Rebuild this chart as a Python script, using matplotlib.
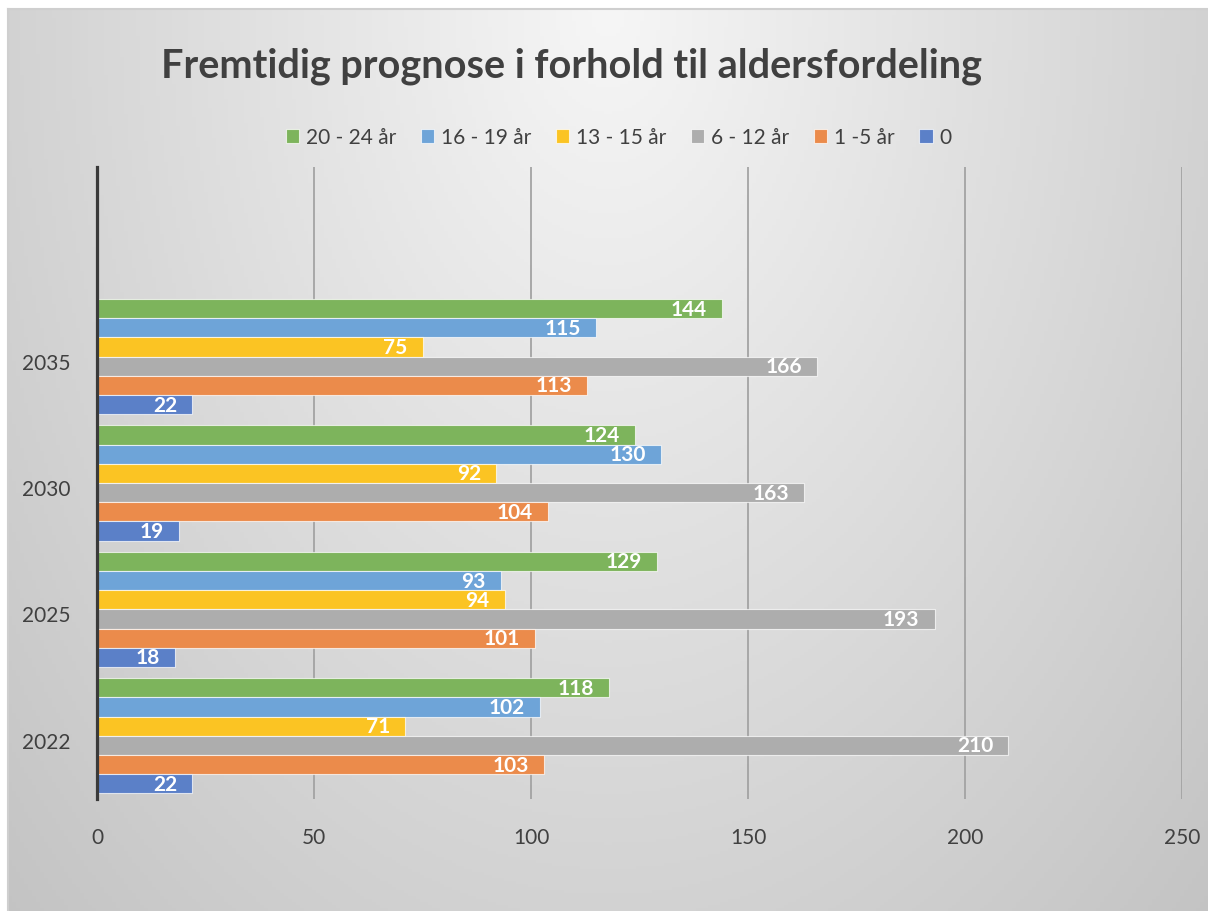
import numpy as np
import matplotlib.pyplot as plt
from matplotlib.transforms import ScaledTranslation

plt.rcParams['font.family'] = ['Lato', 'DejaVu Sans']

years = ['2022', '2025', '2030', '2035', '']
groups = ['20 - 24 år', '16 - 19 år', '13 - 15 år', '6 - 12 år', '1 -5 år', '0']
v_20_24 = [118, 129, 124, 144]
v_16_19 = [102, 93, 130, 115]
v_13_15 = [71, 94, 92, 75]
v_6_12 = [210, 193, 163, 166]
v_1_5 = [103, 101, 104, 113]
v_0 = [22, 18, 19, 22]
series = [v_20_24, v_16_19, v_13_15, v_6_12, v_1_5, v_0]
colors = ['#7db45c', '#6ea4d8', '#fbc423', '#adadad', '#eb8b4b', '#5b80c8']

fig = plt.figure(figsize=(12.08, 9.12), dpi=100, facecolor='white')

# background panel with radial gradient
bg = fig.add_axes([8/1208, 0, 1200/1208, 902/912])
gx, gy = np.meshgrid(np.linspace(0, 1, 300), np.linspace(0, 1, 300))
r = np.sqrt(((gx - 0.5) / 0.5)**2 + gy**2)
shade = 0.965 - 0.14 * r
bg.imshow(np.dstack([shade, shade, shade]), aspect='auto', extent=[0, 1, 1, 0])
bg.set_xlim(0, 1)
bg.set_ylim(1, 0)
for s in bg.spines.values():
    s.set_visible(False)
bg.spines['top'].set_visible(True)
bg.spines['left'].set_visible(True)
bg.spines['top'].set_color('#cfcfcf')
bg.spines['left'].set_color('#cfcfcf')
bg.spines['top'].set_linewidth(1.5)
bg.spines['left'].set_linewidth(1.5)
bg.set_xticks([])
bg.set_yticks([])

ax = fig.add_axes([97/1208, 112/912, 1085/1208, 632/912])
ax.set_facecolor('none')

pos = np.arange(4)
h = 0.152
offsets = [2.5, 1.5, 0.5, -0.5, -1.5, -2.5]
handles = []
for vals, col, off, name in zip(series, colors, offsets, groups):
    y = pos + off * h
    b = ax.barh(y, vals, height=h, color=col, edgecolor=(1, 1, 1, 0.7),
                linewidth=0.8, label=name, zorder=3)
    handles.append(b)
    for yy, v in zip(y, vals):
        ax.annotate(str(v), (v, yy), xytext=(-11, 0), textcoords='offset points',
                    ha='right', va='center', color='white', fontsize=15,
                    fontweight='bold', zorder=4)

ax.set_xlim(0, 250)
ax.set_ylim(-0.5, 4.5)
ax.set_xticks([0, 50, 100, 150, 200, 250])
ax.set_yticks(range(5))
ax.set_yticklabels(years)
ax.tick_params(axis='both', length=0, labelsize=15, labelcolor='#404040')
ax.tick_params(axis='x', pad=20)
ax.tick_params(axis='y', pad=19)
shift = ScaledTranslation(0, -4/100, fig.dpi_scale_trans)
for lab in ax.get_yticklabels():
    lab.set_transform(lab.get_transform() + shift)
ax.grid(axis='x', color='#a3a3a3', linewidth=1.3, zorder=0)
for s in ['top', 'right', 'bottom']:
    ax.spines[s].set_visible(False)
ax.spines['left'].set_color('#3a3a3a')
ax.spines['left'].set_linewidth(2.3)
ax.spines['left'].set_zorder(5)

fig.text(0.473, 1 - 66/912, 'Fremtidig prognose i forhold til aldersfordeling',
         ha='center', va='center', fontsize=28.5, fontweight='bold', color='#404040')

fig.legend(handles, groups, loc='center', bbox_to_anchor=(0.512, 1 - 138/912),
           ncol=6, frameon=False, fontsize=15, handlelength=0.65, handleheight=0.65,
           handletextpad=0.3, columnspacing=1.2, labelcolor='#404040')

fig.savefig('out.png', dpi=100, facecolor='white')
